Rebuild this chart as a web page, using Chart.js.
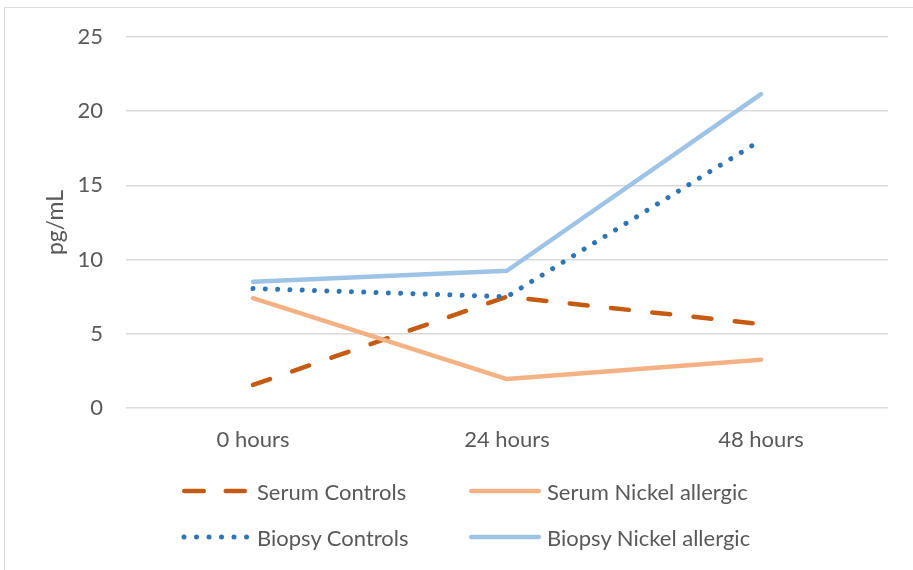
<!DOCTYPE html>
<html>
<head>
<meta charset="utf-8">
<script src="https://cdn.jsdelivr.net/npm/chart.js@4.4.0/dist/chart.umd.min.js"></script>
<style>
	html, body { margin: 0; padding: 0; background: #fff; overflow: hidden; }
	#frame { position: absolute; left: 4px; top: 7px; width: 1000px; height: 700px;
		border-left: 1.5px solid #d9d9d9; border-top: 1.5px solid #d9d9d9; }
	#chartCanvas { position: absolute; left: 0; top: 0; }
	.legItem { position: absolute; height: 30px; display: flex; align-items: center;
		font-family: Lato, sans-serif; font-size: 22px; color: #595959; white-space: nowrap; }
	.legLine { position: absolute; }
</style>
</head>
<body>
<div id="frame"></div>
<canvas id="chartCanvas" width="913" height="570"></canvas>
<div id="legend"></div>
<script>
// 시간 구간
var timeLabels = ['0 hours', '24 hours', '48 hours'];

// 측정값 (pg/mL)
var serumControls = [1.55, 7.5, 5.65];
var serumNickel = [7.4, 1.95, 3.25];
var biopsyControls = [8.05, 7.5, 18.05];
var biopsyNickel = [8.5, 9.25, 21.15];

var seriesNames = ['Serum Controls', 'Serum Nickel allergic', 'Biopsy Controls', 'Biopsy Nickel allergic'];
var seriesColors = ['#c55a11', '#f4b183', '#2e75b6', '#9dc3e6'];

// y축 눈금
var yMin = 0;
var yMax = 25;
var yStep = 5;

var _fontFamily = 'Lato, sans-serif';
var _textColor = '#595959';

function _makeDataset(idx, data, dash, width, order) {
	return {
		label : seriesNames[idx],
		data : data,
		borderColor : seriesColors[idx],
		backgroundColor : seriesColors[idx],
		borderWidth : width,
		borderDash : dash,
		borderCapStyle : 'round',
		borderJoinStyle : 'round',
		pointRadius : 0,
		pointHoverRadius : 0,
		fill : false,
		tension : 0,
		order : order
	};
}

function _setDatasets() {
	var datasets = new Array();
	datasets.push(_makeDataset(0, serumControls, [18, 23.5], 4.5, 3));
	datasets.push(_makeDataset(1, serumNickel, [], 4.5, 2));
	datasets.push(_makeDataset(2, biopsyControls, [0.01, 12.3], 5, 1));
	datasets.push(_makeDataset(3, biopsyNickel, [], 4.5, 0));
	return datasets;
}

var _config = {
	type : 'line',
	data : {
		labels : timeLabels,
		datasets : _setDatasets()
	},
	options : {
		responsive : false,
		animation : false,
		devicePixelRatio : 1,
		layout : { padding : { left : 0, top : 37, right : 25, bottom : 0 } },
		plugins : {
			legend : { display : false },
			tooltip : { enabled : false }
		},
		scales : {
			x : {
				offset : true,
				grid : { display : false, drawTicks : false },
				border : { display : false },
				ticks : {
					padding : 19,
					color : _textColor,
					font : { family : _fontFamily, size : 22 }
				},
				afterFit : function(scale) { scale.height = 570 - 408; }
			},
			y : {
				min : yMin,
				max : yMax,
				grid : { color : '#d9d9d9', lineWidth : 1.5, drawTicks : false },
				border : { display : false },
				ticks : {
					stepSize : yStep,
					padding : 23,
					color : _textColor,
					font : { family : _fontFamily, size : 22 }
				},
				title : {
					display : true,
					text : 'pg/mL',
					color : _textColor,
					font : { family : _fontFamily, size : 23, lineHeight : 1.2 },
					padding : { top : 42, bottom : 0 }
				},
				afterFit : function(scale) { scale.width = 126; }
			}
		}
	}
};

// 범례 (2열 2행)
function renderLegend() {
	var pos = [
		{ lx1 : 184.25, lx2 : 244.75, tx : 257, y : 491 },
		{ lx1 : 471.25, lx2 : 538.75, tx : 547, y : 491 },
		{ lx1 : 184, lx2 : 247.5, tx : 257, y : 537 },
		{ lx1 : 471.25, lx2 : 538.75, tx : 547, y : 537 }
	];
	var dashes = ['19.5 22', '', '0.01 12.49', ''];
	var widths = [4.5, 4.5, 5, 4.5];
	var html = '';
	for (var i = 0; i < seriesNames.length; i++) {
		var p = pos[i];
		html += '<svg class="legLine" width="913" height="20" style="left:0;top:' + (p.y - 10) + 'px">';
		html += '<line x1="' + p.lx1 + '" y1="10" x2="' + p.lx2 + '" y2="10" stroke="' + seriesColors[i] + '" stroke-width="' + widths[i] + '" stroke-linecap="round"';
		if (dashes[i]) html += ' stroke-dasharray="' + dashes[i] + '"';
		html += '/></svg>';
		html += '<div class="legItem" style="left:' + p.tx + 'px;top:' + (p.y - 15) + 'px">' + seriesNames[i] + '</div>';
	}
	document.getElementById('legend').innerHTML = html;
}

var myChart = new Chart(document.getElementById('chartCanvas'), _config);
renderLegend();
</script>
</body>
</html>
